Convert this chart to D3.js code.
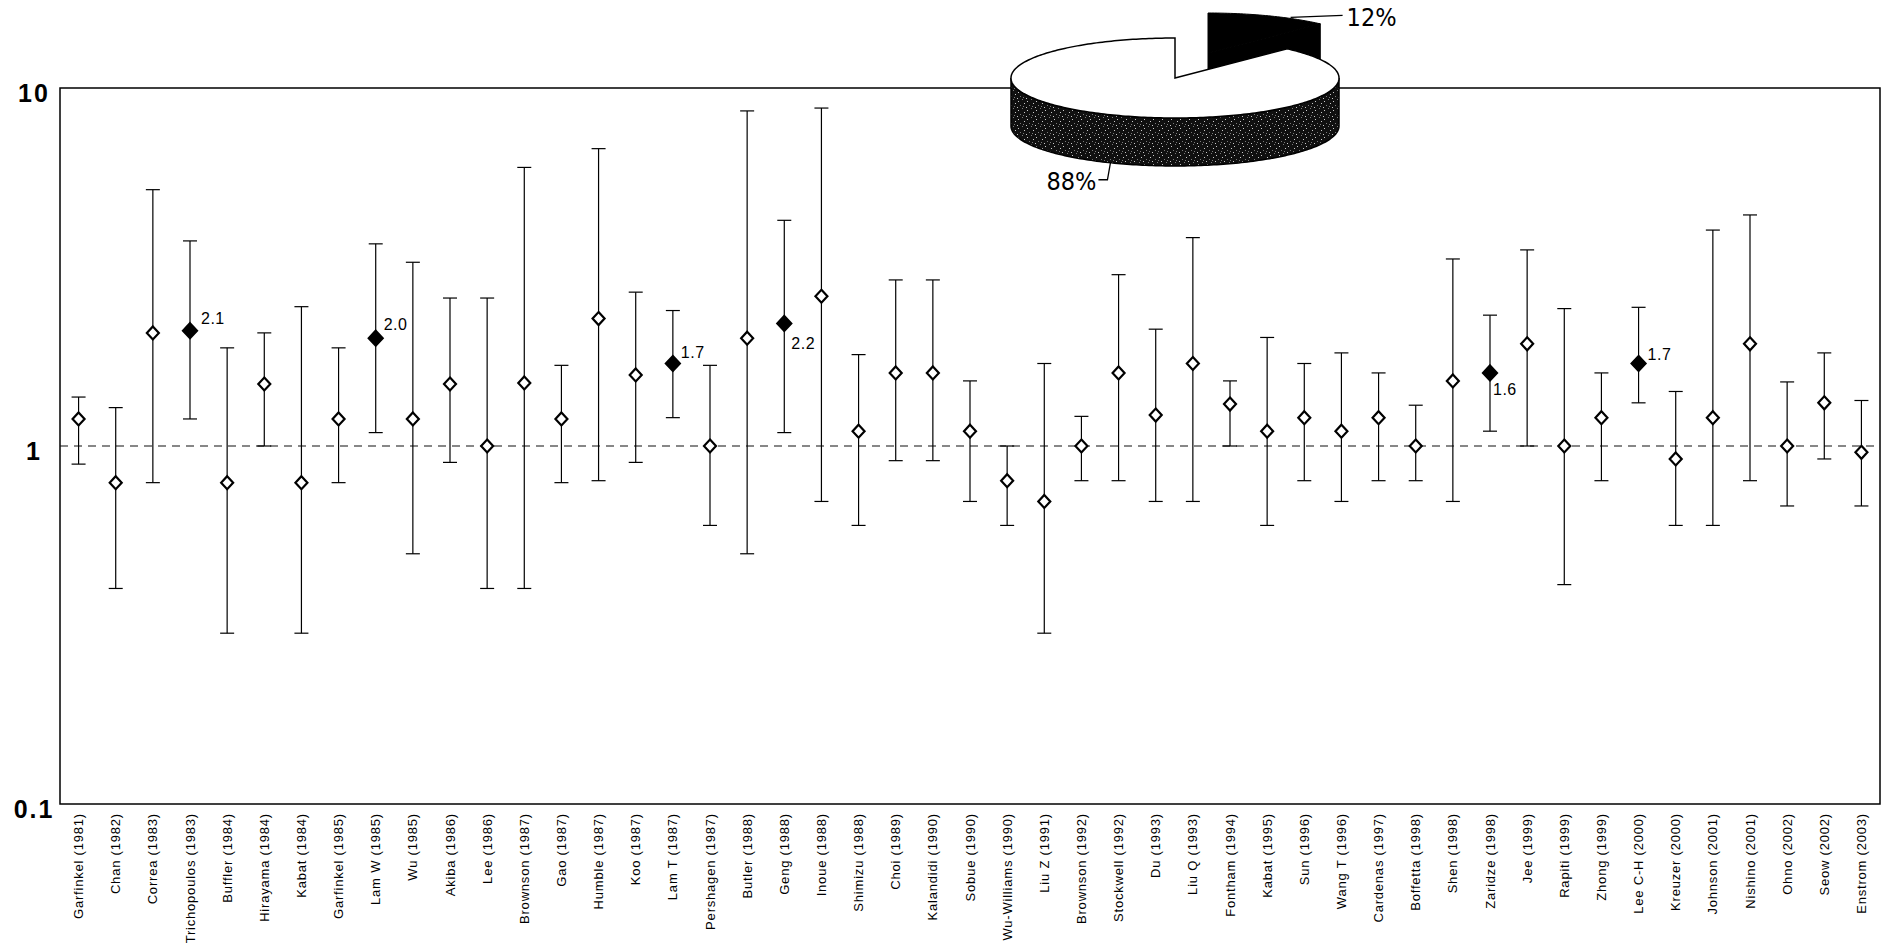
<!DOCTYPE html>
<html>
<head>
<meta charset="utf-8">
<script src="https://cdn.jsdelivr.net/npm/d3@7"></script>
<style>
  html, body { margin: 0; padding: 0; background: #fff; }
  svg { display: block; }
</style>
</head>
<body>
<svg id="chart" width="1886" height="947"></svg>
<script>
// ---------------- DATA ----------------
const studies = [
  "Garfinkel (1981)", "Chan (1982)", "Correa (1983)", "Trichopoulos (1983)", "Buffler (1984)",
  "Hirayama (1984)", "Kabat (1984)", "Garfinkel (1985)", "Lam W (1985)", "Wu (1985)",
  "Akiba (1986)", "Lee (1986)", "Brownson (1987)", "Gao (1987)", "Humble (1987)",
  "Koo (1987)", "Lam T (1987)", "Pershagen (1987)", "Butler (1988)", "Geng (1988)",
  "Inoue (1988)", "Shimizu (1988)", "Choi (1989)", "Kalandidi (1990)", "Sobue (1990)",
  "Wu-Williams (1990)", "Liu Z (1991)", "Brownson (1992)", "Stockwell (1992)", "Du (1993)",
  "Liu Q (1993)", "Fontham (1994)", "Kabat (1995)", "Sun (1996)", "Wang T (1996)",
  "Cardenas (1997)", "Boffetta (1998)", "Shen (1998)", "Zaridze (1998)", "Jee (1999)",
  "Rapiti (1999)", "Zhong (1999)", "Lee C-H (2000)", "Kreuzer (2000)", "Johnson (2001)",
  "Nishino (2001)", "Ohno (2002)", "Seow (2002)", "Enstrom (2003)"
];
const oddsRatio = [
  1.19, 0.79, 2.07, 2.1, 0.79, 1.49, 0.79, 1.19, 2.0, 1.19,
  1.49, 1.0, 1.5, 1.19, 2.27, 1.58, 1.7, 1.0, 2.0, 2.2,
  2.62, 1.1, 1.6, 1.6, 1.1, 0.8, 0.7, 1.0, 1.6, 1.22,
  1.7, 1.31, 1.1, 1.2, 1.1, 1.2, 1.0, 1.52, 1.6, 1.93,
  1.0, 1.2, 1.7, 0.92, 1.2, 1.93, 1.0, 1.32, 0.96
];
const ciLower = [
  0.89, 0.40, 0.79, 1.19, 0.30, 1.0, 0.30, 0.79, 1.09, 0.50,
  0.90, 0.40, 0.40, 0.79, 0.80, 0.90, 1.2, 0.60, 0.50, 1.09,
  0.70, 0.60, 0.91, 0.91, 0.70, 0.60, 0.30, 0.80, 0.80, 0.70,
  0.70, 1.0, 0.60, 0.80, 0.70, 0.80, 0.80, 0.70, 1.10, 1.0,
  0.41, 0.80, 1.32, 0.60, 0.60, 0.80, 0.68, 0.92, 0.68
];
const ciUpper = [
  1.37, 1.28, 5.2, 3.74, 1.88, 2.07, 2.45, 1.88, 3.67, 3.26,
  2.59, 2.59, 6.0, 1.68, 6.77, 2.69, 2.39, 1.68, 8.63, 4.27,
  8.79, 1.80, 2.91, 2.91, 1.52, 1.0, 1.7, 1.21, 3.01, 2.12,
  3.82, 1.52, 2.01, 1.7, 1.82, 1.60, 1.3, 3.33, 2.32, 3.53,
  2.42, 1.6, 2.44, 1.42, 4.01, 4.42, 1.51, 1.82, 1.34
];
// significant studies (filled markers) and their printed values
const highlighted = ["Trichopoulos (1983)", "Lam W (1985)", "Lam T (1987)", "Geng (1988)", "Zaridze (1998)", "Lee C-H (2000)"];
const highlightLabels = ["2.1", "2.0", "1.7", "2.2", "1.6", "1.7"];
const yTickValues = [0.1, 1, 10];
const yTickLabels = ["0.1", "1", "10"];
const pieLabels = ["12%", "88%"];
const pieValues = [12, 88];

// ---------------- LAYOUT / STYLE ----------------
const W = 1886, H = 947;
const plot = { left: 60, right: 1880, top: 88, bottom: 804 };
const labelOffsets = [[11, -12], [8, -14], [8, -11], [7, 20], [3, 17], [9, -9]];
const pieGeom = { cx: 1175, cy: 78, rx: 164, ry: 40, depth: 48, explodeDx: 33, explodeDy: -25 };

const svg = d3.select("#chart");
const FONT = "'Liberation Sans', Arial, Helvetica, sans-serif";

const x = d3.scaleBand().domain(studies).range([plot.left, plot.right]).padding(0);
const y = d3.scaleLog().domain([0.1, 10]).range([plot.bottom, plot.top]);

const rows = studies.map((s, i) => ({
  name: s, or: oddsRatio[i], lo: ciLower[i], hi: ciUpper[i],
  hl: highlighted.indexOf(s)
}));

// frame
svg.append("rect")
  .attr("x", plot.left).attr("y", plot.top)
  .attr("width", plot.right - plot.left).attr("height", plot.bottom - plot.top)
  .attr("fill", "none").attr("stroke", "#000").attr("stroke-width", 1.5);

// reference line at 1
svg.append("line")
  .attr("x1", plot.left).attr("x2", plot.right)
  .attr("y1", y(1)).attr("y2", y(1))
  .attr("stroke", "#111").attr("stroke-width", 1.1)
  .attr("stroke-dasharray", "8,6");

// y axis labels
const yAxis = d3.axisLeft(y).tickValues(yTickValues)
  .tickFormat((d, i) => yTickLabels[i]).tickSize(0);
const yg = svg.append("g").attr("transform", `translate(${plot.left},0)`).call(yAxis);
yg.select(".domain").remove();
yg.selectAll("text")
  .attr("x", 34 - plot.left).attr("dy", null).attr("y", 4)
  .attr("text-anchor", "middle").attr("dominant-baseline", "central")
  .style("font-family", FONT).style("font-size", "25px").style("font-weight", "bold")
  .style("letter-spacing", "2px").attr("fill", "#000");

// x axis labels
const xAxis = d3.axisBottom(x).tickSize(0);
const xg = svg.append("g").attr("transform", `translate(0,${plot.bottom})`).call(xAxis);
xg.select(".domain").remove();
xg.selectAll("text")
  .attr("y", 0).attr("x", 0).attr("dy", null)
  .attr("transform", "translate(0,9) rotate(-90)")
  .attr("text-anchor", "end").attr("dominant-baseline", "central")
  .style("font-family", FONT).style("font-size", "13px")
  .style("letter-spacing", "0.8px").attr("fill", "#000");

// error bars
const cx = d => x(d.name) + x.bandwidth() / 2;
const capW = 7;
const eb = svg.append("g").attr("stroke", "#000").attr("stroke-width", 1.2);
eb.selectAll("line.v").data(rows).join("line").attr("class", "v")
  .attr("x1", cx).attr("x2", cx).attr("y1", d => y(d.hi)).attr("y2", d => y(d.lo));
eb.selectAll("line.t").data(rows).join("line").attr("class", "t")
  .attr("x1", d => cx(d) - capW).attr("x2", d => cx(d) + capW)
  .attr("y1", d => y(d.hi)).attr("y2", d => y(d.hi));
eb.selectAll("line.b").data(rows).join("line").attr("class", "b")
  .attr("x1", d => cx(d) - capW).attr("x2", d => cx(d) + capW)
  .attr("y1", d => y(d.lo)).attr("y2", d => y(d.lo));

// markers
const diamond = (hw, hh) => `M0,${-hh}L${hw},0L0,${hh}L${-hw},0Z`;
svg.append("g").selectAll("path").data(rows).join("path")
  .attr("transform", d => `translate(${cx(d)},${y(d.or)})`)
  .attr("d", d => d.hl >= 0 ? diamond(7, 7.5) : diamond(6, 6.5))
  .attr("fill", d => d.hl >= 0 ? "#000" : "#fff")
  .attr("stroke", "#000").attr("stroke-width", 2.2);

// value labels for significant studies
svg.append("g").selectAll("text").data(rows.filter(d => d.hl >= 0)).join("text")
  .attr("x", d => cx(d) + labelOffsets[d.hl][0])
  .attr("y", d => y(d.or) + labelOffsets[d.hl][1])
  .attr("dominant-baseline", "central")
  .style("font-family", FONT).style("font-size", "16px")
  .style("letter-spacing", "0.5px")
  .text(d => highlightLabels[d.hl]);

// ---------------- 3D PIE ----------------
const defs = svg.append("defs");
const pat = defs.append("pattern").attr("id", "stipple")
  .attr("patternUnits", "userSpaceOnUse").attr("width", 9).attr("height", 9);
pat.append("rect").attr("width", 9).attr("height", 9).attr("fill", "#101010");
[[1, 2], [5, 0], [7, 4], [3, 6], [0, 8], [6, 7]].forEach(([px, py], k) => {
  pat.append("rect").attr("x", px).attr("y", py).attr("width", 1).attr("height", 1)
    .attr("fill", k % 2 ? "#7a7a7a" : "#c8c8c8");
});

const arcs = d3.pie().sort(null)(pieValues);
const G = pieGeom;
const pt = (a, ox, oy, dz) => [ox + G.rx * Math.sin(a), oy - G.ry * Math.cos(a) + dz];
const arcPts = (a0, a1, ox, oy, dz) => {
  const n = Math.max(2, Math.ceil(Math.abs(a1 - a0) / 0.02));
  return d3.range(n + 1).map(k => pt(a0 + (a1 - a0) * k / n, ox, oy, dz));
};
const line = d3.line();
const pieG = svg.append("g");

// small (exploded) slice: black
const sm = arcs[0];
const sox = G.cx + G.explodeDx, soy = G.cy + G.explodeDy;
const pe0 = pt(sm.endAngle, sox, soy, 0), pe1 = pt(sm.endAngle, sox, soy, G.depth);
pieG.append("path")
  .attr("d", line([[sox, soy], pe0, pe1, [sox, soy + G.depth]]) + "Z")
  .attr("fill", "#000").attr("stroke", "#000");
pieG.append("path")
  .attr("d", line([[sox, soy], ...arcPts(sm.startAngle, sm.endAngle, sox, soy, 0)]) + "Z")
  .attr("fill", "#000").attr("stroke", "#000");

// large slice
const bg = arcs[1];
const s0 = Math.max(bg.startAngle, Math.PI / 2), s1 = Math.min(bg.endAngle, 3 * Math.PI / 2);
const sideTop = arcPts(s0, s1, G.cx, G.cy, 0);
const sideBot = arcPts(s1, s0, G.cx, G.cy, G.depth);
pieG.append("path")
  .attr("d", line([...sideTop, ...sideBot]) + "Z")
  .attr("fill", "url(#stipple)").attr("stroke", "#000").attr("stroke-width", 1.5);
pieG.append("path")
  .attr("d", line([[G.cx, G.cy], ...arcPts(bg.startAngle, bg.endAngle, G.cx, G.cy, 0)]) + "Z")
  .attr("fill", "#fff").attr("stroke", "#000").attr("stroke-width", 1.5);

// pie labels with leader lines
const PFONT = "'Liberation Sans Narrow', 'DejaVu Sans Condensed', 'Liberation Sans', Arial, sans-serif";
const l12a = pt(sm.startAngle + (sm.endAngle - sm.startAngle) * 0.7, sox, soy, 0);
const l12 = [[l12a[0], l12a[1] - 1], [l12a[0] + 52, l12a[1] - 3]];
pieG.append("path").attr("d", line(l12)).attr("fill", "none").attr("stroke", "#000").attr("stroke-width", 1.3);
pieG.append("text").attr("x", l12[1][0] + 4).attr("y", l12[1][1] + 11)
  .style("font-family", PFONT).style("font-size", "25px").text(pieLabels[0]);

const a88 = bg.startAngle + (bg.endAngle - bg.startAngle) * 0.505;
const l88a = pt(a88, G.cx, G.cy, G.depth);
const l88 = [l88a, [l88a[0] - 3, l88a[1] + 17], [l88a[0] - 12, l88a[1] + 17]];
pieG.append("path").attr("d", line(l88)).attr("fill", "none").attr("stroke", "#000").attr("stroke-width", 1.3);
pieG.append("text").attr("x", l88[2][0] - 2).attr("y", l88[2][1] + 10)
  .attr("text-anchor", "end")
  .style("font-family", PFONT).style("font-size", "25px").text(pieLabels[1]);
</script>
</body>
</html>
